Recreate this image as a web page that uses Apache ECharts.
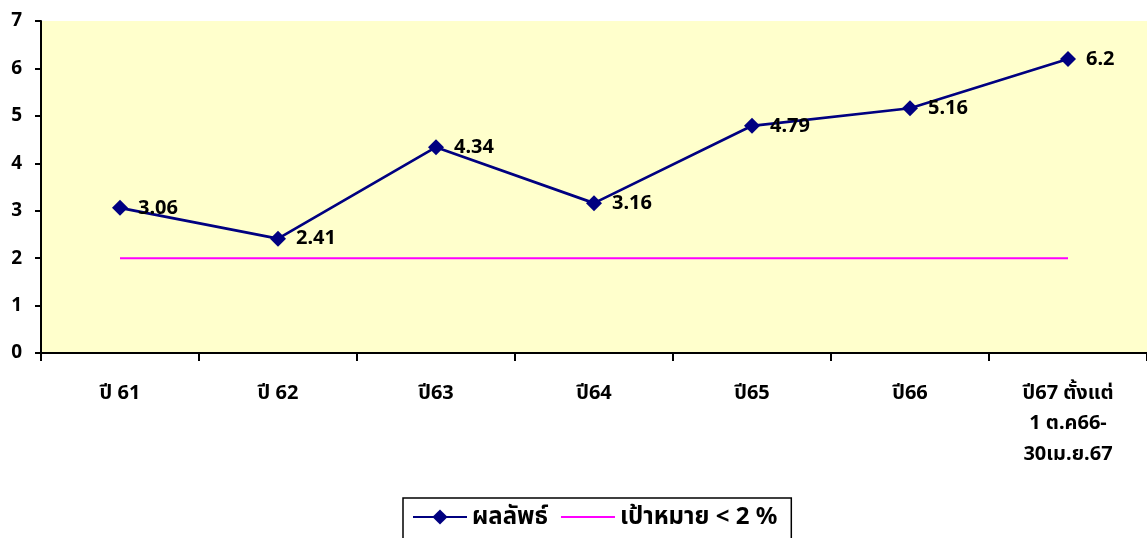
<!DOCTYPE html>
<html><head><meta charset="utf-8">
<script src="https://cdn.jsdelivr.net/npm/echarts@6/dist/echarts.min.js"></script>
<style>html,body{margin:0;padding:0;background:#fff}#c{width:1147px;height:538px}</style>
</head><body><div id="c"></div>
<script>
const categories = ['ปี 61','ปี 62','ปี63','ปี64','ปี65','ปี66','ปี67 ตั้งแต่\n1 ต.ค66-\n30เม.ย.67'];
const resultValues = [3.06, 2.41, 4.34, 3.16, 4.79, 5.16, 6.2];
const targetValues = [2, 2, 2, 2, 2, 2, 2];
const yTicks = [0, 7, 1];
const seriesNames = ['ผลลัพธ์', 'เป้าหมาย < 2 %'];
const FONT = '"Noto Sans", "Noto Sans Thai", "Liberation Sans", sans-serif';
const chart = echarts.init(document.getElementById('c'));
chart.setOption({
  animation: false,
  textStyle: {fontFamily: FONT},
  grid: {left: 41, right: 0, top: 21, bottom: 185, show: true, backgroundColor: '#FFFFCC', borderWidth: 0},
  legend: {
    left: 403, top: 498, height: 60,
    padding: [7, 14, 20, 9],
    borderColor: '#000', borderWidth: 1.5,
    itemWidth: 54, itemHeight: 19, itemGap: 12,
    textStyle: {fontFamily: FONT, fontWeight: 'bold', fontSize: 24, color: '#000'},
    data: [
      {name: seriesNames[0]},
      {name: seriesNames[1], itemStyle: {color: 'rgba(0,0,0,0)', borderColor: 'rgba(0,0,0,0)', borderWidth: 0}}
    ]
  },
  xAxis: {
    type: 'category', data: categories, boundaryGap: true,
    axisLine: {lineStyle: {color: '#000', width: 2}},
    axisTick: {show: true, length: 8, lineStyle: {color: '#000', width: 2}},
    axisLabel: {fontFamily: FONT, fontWeight: 'bold', fontSize: 20, color: '#000', margin: 25, lineHeight: 30.5, interval: 0},
    splitLine: {show: false}
  },
  yAxis: {
    type: 'value', min: yTicks[0], max: yTicks[1], interval: yTicks[2],
    axisLine: {show: true, lineStyle: {color: '#000', width: 2}},
    axisTick: {show: true, length: 6, lineStyle: {color: '#000', width: 2}},
    axisLabel: {fontFamily: FONT, fontWeight: 'bold', fontSize: 19, color: '#000', margin: 19},
    splitLine: {show: false}
  },
  series: [
    {
      name: seriesNames[1], type: 'line', data: targetValues,
      symbol: 'none', lineStyle: {color: '#FF00FF', width: 2},
      itemStyle: {color: '#FF00FF'}, z: 2
    },
    {
      name: seriesNames[0], type: 'line', data: resultValues,
      symbol: 'diamond', symbolSize: 16,
      lineStyle: {color: '#000080', width: 2.7},
      itemStyle: {color: '#000080'},
      label: {show: true, position: 'right', distance: 10, fontFamily: FONT, fontWeight: 'bold', fontSize: 20, color: '#000'},
      z: 3
    }
  ]
});
</script></body></html>
